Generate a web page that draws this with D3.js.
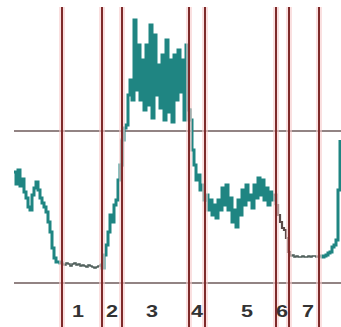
<!DOCTYPE html>
<html><head><meta charset="utf-8">
<script src="https://cdn.jsdelivr.net/npm/d3@7"></script>
<style>html,body{margin:0;padding:0;background:#fff;}svg{display:block;}</style>
</head><body>
<svg id="chart" width="341" height="327"></svg>
<script>
// signal samples, taken every 2 time units
const values = [111,99,113,97,104,91,85,76,73,88,95,101,93,85,80,76,71,61,51,35,25,21,21,20,19,
18,20,19,17,19,20,18,19,17,18,17,16,18,17,16,15,16,17,18,
15,28,38,51,68,61,78,83,103,118,143,155,158,
188,203,183,263,193,238,183,223,173,238,178,258,165,248,188,218,175,228,163,243,171,223,161,228,183,233,191,223,163,238,173,
163,133,118,103,108,93,98,83,
88,73,83,68,78,65,83,73,95,78,98,73,85,61,73,56,83,68,93,78,98,83,88,75,98,85,105,88,103,83,95,78,91,83,88,
78,68,61,55,53,45,31,
27,28,26,27,26,26,27,26,26,27,26,27,27,26,27,27,26,27,28,30,31,36,38,43,93,143];
const times = values.map((_, i) => i * 2);
// phase boundaries (time units)
const boundaries = [48, 88, 108, 175, 191, 262, 275, 305];
const phaseLabels = ["1", "2", "3", "4", "5", "6", "7"];
const labelTimes = [64, 98, 138, 183, 233, 268, 294];
// reference levels
const refLevels = [0, 152];
// trace colour per region (before 1, phases 1..7, after 7)
const regionColors = ["#1f8582", "#4a5a55", "#1f8582", "#1f8582", "#1f8582", "#1f8582", "#5a4a48", "#4a5a55", "#1f8582"];
const regionWidths = [3, 1.6, 3, 3, 3, 3, 2.2, 1.6, 3];

const svg = d3.select("#chart");
const x = d3.scaleLinear().domain([0, 326]).range([14, 340]);
const y = d3.scaleLinear().domain([0, 152]).range([283, 131]);

// reference lines
svg.selectAll("line.ref").data(refLevels).join("line")
  .attr("x1", 14).attr("x2", 341)
  .attr("y1", d => y(d)).attr("y2", d => y(d))
  .attr("stroke", "#6e5a5a").attr("stroke-width", 1.5);

// signal, split by region
const pts = times.map((t, i) => [t, values[i]]);
const edges = [-Infinity, ...boundaries, Infinity];
const line = d3.line().x(d => x(d[0])).y(d => y(d[1])).curve(d3.curveStepAfter);
const segs = regionColors.map((c, r) => {
  const lo = edges[r], hi = edges[r + 1];
  const idx = pts.map((p, i) => i).filter(i => pts[i][0] >= lo && pts[i][0] < hi);
  if (!idx.length) return {c, w: regionWidths[r], p: []};
  const first = Math.max(0, idx[0] - 1);
  const last = Math.min(pts.length - 1, idx[idx.length - 1] + 1);
  return {c, w: regionWidths[r], p: pts.slice(first, last + 1)};
});
svg.selectAll("path.sig").data(segs).join("path")
  .attr("d", d => d.p.length ? line(d.p) : null)
  .attr("fill", "none").attr("stroke", d => d.c).attr("stroke-width", d => d.w);

// boundary lines with halo
svg.selectAll("line.halo").data(boundaries).join("line")
  .attr("x1", d => x(d)).attr("x2", d => x(d))
  .attr("y1", 7).attr("y2", 327)
  .attr("stroke", "#f7cccc").attr("stroke-width", 6).attr("opacity", 0.6);
svg.selectAll("line.bnd").data(boundaries).join("line")
  .attr("x1", d => x(d)).attr("x2", d => x(d))
  .attr("y1", 7).attr("y2", 327)
  .attr("stroke", "#7e2a2a").attr("stroke-width", 2);

// phase labels
svg.selectAll("text.lbl").data(phaseLabels).join("text")
  .attr("transform", (d, i) => `translate(${x(labelTimes[i])},317) scale(1.35,1)`)
  .attr("text-anchor", "middle")
  .attr("font-family", "Liberation Sans, Arial, sans-serif")
  .attr("font-weight", "bold").attr("font-size", 16)
  .attr("fill", "#333")
  .text(d => d);
</script>
</body></html>
